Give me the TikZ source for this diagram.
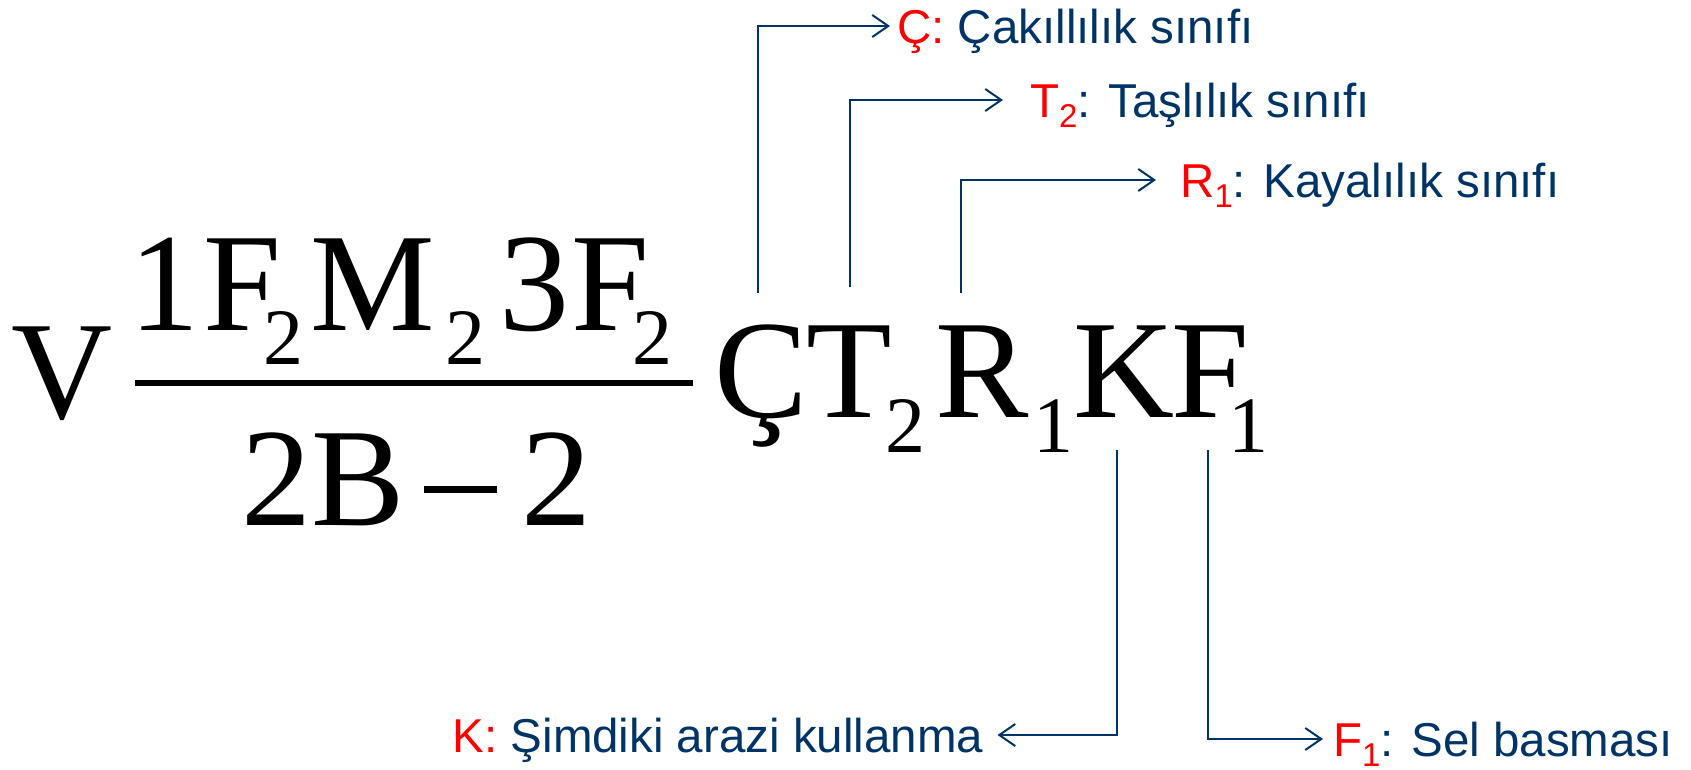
\documentclass[tikz,border=0pt]{standalone}
\usepackage{fontspec}
\setmainfont{Liberation Serif}
\newfontfamily\lblfont{Liberation Sans}
\usetikzlibrary{arrows.meta}
\definecolor{navy}{RGB}{0,51,102}
\newcommand{\eqsub}[2][34pt]{\raisebox{-#1}{\fontsize{80pt}{80pt}\selectfont #2}}
\newcommand{\lblsub}[1]{\raisebox{-10pt}{\fontsize{33pt}{33pt}\selectfont #1}}

\begin{document}
\begin{tikzpicture}[x=1pt,y=-1pt,
    every node/.style={inner sep=0pt, anchor=base west},
    eq/.style={font=\fontsize{140pt}{140pt}\selectfont},
    lbl/.style={font=\lblfont\fontsize{47.5pt}{47.5pt}\selectfont, text=navy, text height=34pt, text depth=0pt},
    conn/.style={draw=navy, line width=2pt, -{Straight Barb[length=16pt,width=22pt]}},
  ]
  \useasboundingbox (0,0) rectangle (1691,769);
  % formula
  \node[eq] (V) at (11,418) {V};
  \node[eq] (num) at (129.5,330) {1\kern3.5pt F\kern-18pt\eqsub{2}\kern7pt M\kern10.5pt\eqsub{2}\kern14pt 3\kern2pt F\kern-16pt\eqsub{2}};
  \draw[line width=6pt] (135,383) -- (693,383);
  \node[eq] (den) at (241,525) {2B\kern19pt\rule[32.5pt]{73pt}{6.5pt}\kern25pt 2};
  \node[eq] (C) at (714,417) {Ç};
  \node[eq] (T) at (806,417) {T\kern-6pt\eqsub[35pt]{2}};
  \node[eq] (R) at (935,417) {R\kern4.6pt\eqsub[35pt]{1}};
  \node[eq] (K) at (1073,417) {K};
  \node[eq] (F) at (1171,417) {F\kern-21pt\eqsub[35pt]{1}};
  % labels
  \node[lbl] (lC) at (897,43) {\textcolor{red}{Ç:} Çakıllılık sınıfı};
  \node[lbl] (lT) at (1030,117) {\textcolor{red}{T\lblsub{2}}: Taşlılık sınıfı};
  \node[lbl] (lR) at (1180,197) {\textcolor{red}{R\lblsub{1}}: Kayalılık sınıfı};
  \node[lbl] (lK) at (452.5,752) {\textcolor{red}{K:} Şimdiki arazi kullanma};
  \node[lbl] (lF) at (1333,756) {\textcolor{red}{F\lblsub{1}}: Sel basması};
  % connectors
  \coordinate (cC) at (758,293);
  \coordinate (cT) at (850,287);
  \coordinate (cR) at (961,293);
  \coordinate (cK) at (1117,450);
  \coordinate (cF) at (1208,450);
  \draw[conn] (cC) |- ([xshift=-7pt]lC.west);
  \draw[conn] (cT) |- ([xshift=-27pt]lT.west);
  \draw[conn] (cR) |- ([xshift=-24pt]lR.west);
  \draw[conn] (cK) |- ([xshift=14pt]lK.east);
  \draw[conn] (cF) |- ([xshift=-10pt]lF.west);
\end{tikzpicture}
\end{document}
